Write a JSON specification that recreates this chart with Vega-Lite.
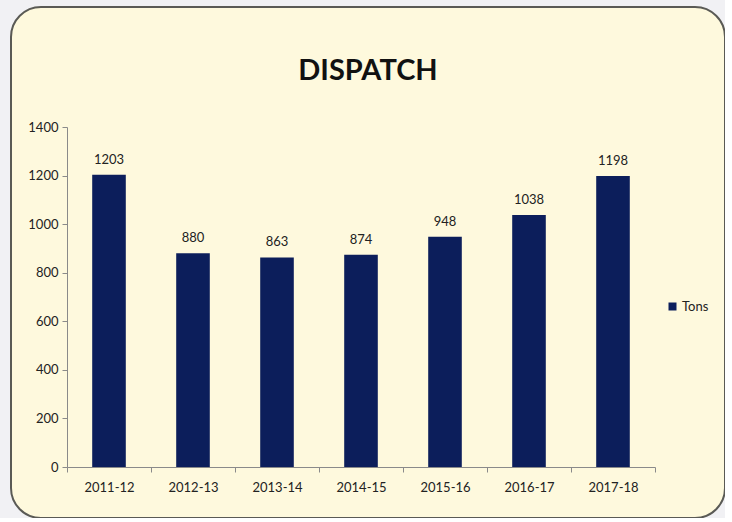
{
  "$schema": "https://vega.github.io/schema/vega-lite/v6.json",
  "autosize": {"type": "none"},
  "padding": {"left": 11, "top": 7, "right": 0, "bottom": 0},
  "width": 714,
  "height": 511,
  "background": "#F1F1F4",
  "config": {
    "view": {"fill": "#FEF9DD", "stroke": "#5A5A55", "strokeWidth": 2, "cornerRadius": 30},
    "font": "Lato",
    "axis": {"labelFont": "Lato", "labelFontSize": 13, "labelColor": "#222222", "domainColor": "#8A8A8A", "tickColor": "#8A8A8A", "tickSize": 5, "grid": false, "title": null}
  },
  "title": {
    "text": "DISPATCH",
    "font": "Lato",
    "fontSize": 29,
    "fontWeight": "bold",
    "color": "#111111",
    "anchor": "middle",
    "baseline": "alphabetic",
    "offset": -102
  },
  "data": {
    "values": [
      {"year": "2011-12", "tons": 1203, "series": "Tons"},
      {"year": "2012-13", "tons": 880, "series": "Tons"},
      {"year": "2013-14", "tons": 863, "series": "Tons"},
      {"year": "2014-15", "tons": 874, "series": "Tons"},
      {"year": "2015-16", "tons": 948, "series": "Tons"},
      {"year": "2016-17", "tons": 1038, "series": "Tons"},
      {"year": "2017-18", "tons": 1198, "series": "Tons"}
    ]
  },
  "encoding": {
    "x": {
      "field": "year", "type": "nominal", "sort": null,
      "scale": {"range": [56, 644], "paddingInner": 0, "paddingOuter": 0},
      "axis": {"labelAngle": 0, "offset": -51, "tickBand": "extent", "labelPadding": 9}
    },
    "y": {
      "field": "tons", "type": "quantitative",
      "scale": {"domain": [0, 1400], "range": [460, 120], "nice": false},
      "axis": {"values": [0, 200, 400, 600, 800, 1000, 1200, 1400], "format": "d", "offset": -56, "labelPadding": 4}
    }
  },
  "layer": [
    {
      "mark": {"type": "bar", "width": {"band": 0.4}},
      "encoding": {
        "color": {
          "field": "series", "type": "nominal",
          "scale": {"range": ["#0C1E5B"]},
          "legend": {
            "title": null, "orient": "none", "legendX": 655, "legendY": 293,
            "symbolType": "square", "symbolSize": 64, "labelFontSize": 13, "labelFont": "Lato", "labelColor": "#222222", "labelOffset": 3
          }
        }
      }
    },
    {
      "mark": {"type": "text", "baseline": "alphabetic", "dy": -11, "fontSize": 13, "font": "Lato", "color": "#222222"},
      "encoding": {"text": {"field": "tons", "type": "quantitative", "format": "d"}}
    }
  ]
}
